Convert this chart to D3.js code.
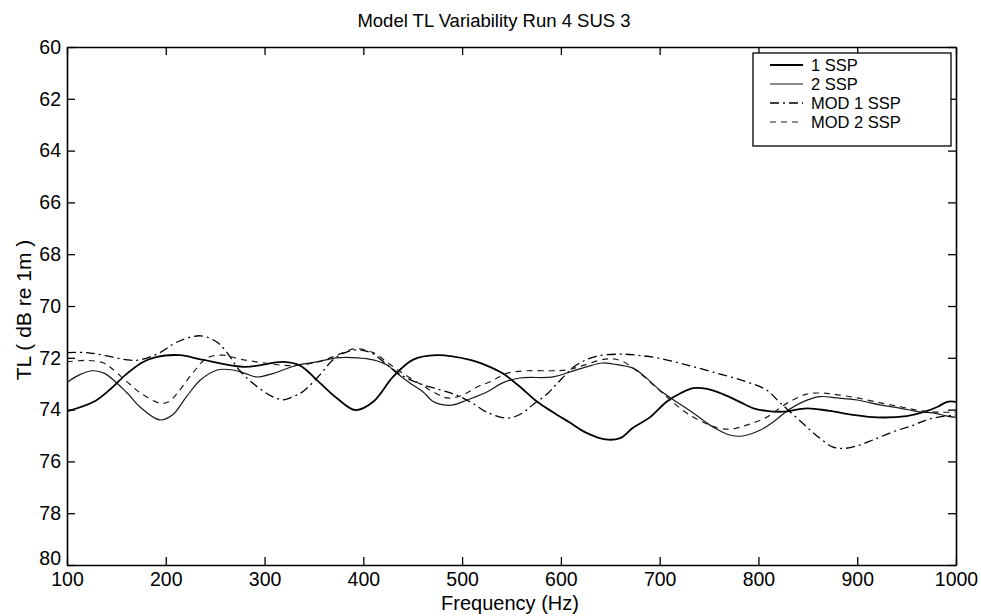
<!DOCTYPE html>
<html>
<head>
<meta charset="utf-8">
<script src="https://cdn.jsdelivr.net/npm/d3@7"></script>
<style>
  html, body { margin: 0; padding: 0; background: #fff; }
  svg { display: block; font-family: "Liberation Sans", Arial, Helvetica, sans-serif; }
</style>
</head>
<body>
<svg id="chart" width="981" height="616"></svg>
<script>
// ---- data ----
const titleText = "Model TL Variability Run 4 SUS 3";
const xLabel = "Frequency (Hz)";
const yLabel = "TL ( dB re 1m )";
const xTicks = [100, 200, 300, 400, 500, 600, 700, 800, 900, 1000];
const yTicks = [60, 62, 64, 66, 68, 70, 72, 74, 76, 78, 80];
const seriesNames = ["1 SSP", "2 SSP", "MOD 1 SSP", "MOD 2 SSP"];

// [frequency Hz, TL dB]
const ssp1 = [[100,74.07],[127,73.7],[143,73.24],[161,72.6],[177,72.16],[191,71.96],[214,71.9],[238,72.08],[280,72.35],[319,72.16],[336,72.3],[353,72.86],[373,73.55],[392,74.02],[410,73.7],[430,72.74],[450,72.08],[474,71.9],[508,72.08],[525,72.3],[541,72.6],[558,73.1],[576,73.7],[592,74.1],[609,74.5],[626,74.9],[645,75.15],[660,75.1],[673,74.7],[690,74.3],[707,73.7],[721,73.37],[734,73.17],[748,73.2],[764,73.4],[781,73.7],[795,73.95],[808,74.05],[825,74.08],[849,73.95],[872,74.05],[896,74.2],[920,74.3],[950,74.25],[967,74.1],[981,73.9],[991,73.7],[1000,73.7]];
const ssp2 = [[100,72.95],[113,72.65],[126,72.5],[138,72.6],[161,73.36],[174,73.9],[194,74.4],[207,74.2],[221,73.5],[235,72.86],[252,72.47],[268,72.47],[280,72.6],[292,72.74],[309,72.6],[333,72.28],[353,72.16],[373,72.0],[394,72.0],[410,72.08],[424,72.28],[434,72.6],[447,72.97],[460,73.3],[471,73.7],[481,73.82],[491,73.82],[505,73.63],[525,73.32],[541,72.97],[558,72.78],[592,72.74],[609,72.55],[626,72.35],[642,72.2],[653,72.24],[673,72.4],[683,72.66],[700,73.24],[717,73.7],[734,74.13],[754,74.67],[771,74.98],[784,75.02],[802,74.79],[815,74.48],[829,74.05],[845,73.7],[862,73.5],[880,73.55],[900,73.63],[923,73.82],[943,73.94],[963,74.09],[977,74.13],[991,74.25],[1000,74.3]];
const mod1 = [[100,71.8],[120,71.8],[137,71.9],[161,72.08],[174,72.08],[194,71.8],[211,71.4],[235,71.15],[252,71.4],[262,71.8],[275,72.5],[292,73.1],[308,73.5],[319,73.62],[329,73.5],[339,73.3],[356,72.66],[370,72.05],[385,71.75],[398,71.7],[410,71.85],[425,72.3],[440,72.7],[457,73.0],[478,73.24],[495,73.45],[511,73.76],[525,74.1],[545,74.33],[558,74.2],[572,73.8],[586,73.4],[596,73.0],[615,72.3],[635,71.95],[660,71.86],[677,71.9],[697,72.0],[724,72.24],[754,72.55],[788,72.93],[808,73.24],[821,73.7],[844,74.5],[862,75.1],[875,75.44],[886,75.5],[900,75.4],[916,75.17],[936,74.86],[957,74.6],[974,74.35],[1000,74.2]];
const mod2 = [[100,72.16],[120,72.1],[137,72.2],[145,72.4],[160,72.9],[174,73.35],[194,73.75],[203,73.7],[212,73.35],[227,72.6],[242,72.0],[258,71.9],[275,72.05],[300,72.2],[325,72.3],[350,72.2],[370,71.95],[392,71.65],[410,71.8],[425,72.2],[440,72.6],[455,72.95],[470,73.3],[485,73.55],[500,73.45],[515,73.13],[530,72.9],[545,72.6],[565,72.5],[590,72.5],[606,72.47],[622,72.3],[645,72.05],[660,72.1],[680,72.6],[698,73.2],[710,73.6],[730,74.2],[758,74.7],[773,74.75],[788,74.6],[808,74.3],[829,73.75],[849,73.4],[862,73.36],[875,73.4],[900,73.55],[925,73.75],[945,73.9],[965,74.05],[985,74.1],[1000,74.1]];

// ---- layout ----
const svg = d3.select("#chart");
const L = 67, R = 956, T = 47, B = 565;
const x = d3.scaleLinear().domain([100, 1000]).range([L, R]);
const y = d3.scaleLinear().domain([60, 80]).range([T, B]);
const tickFont = 19.5;
const labelFont = 20;

// title
svg.append("text").attr("x", 494).attr("y", 27)
  .attr("text-anchor", "middle").attr("font-size", 18.5).text(titleText);

// clip
svg.append("clipPath").attr("id", "clip").append("rect")
  .attr("x", L).attr("y", T).attr("width", R - L).attr("height", B - T);

// axes
const tickLen = 8;
const gB = svg.append("g").attr("transform", `translate(0,${B})`)
  .call(d3.axisBottom(x).tickValues(xTicks).tickFormat(d3.format("d"))
    .tickSizeInner(-tickLen).tickSizeOuter(0).tickPadding(7));
const gT = svg.append("g").attr("transform", `translate(0,${T})`)
  .call(d3.axisTop(x).tickValues(xTicks).tickFormat("")
    .tickSizeInner(-tickLen).tickSizeOuter(0));
const gL = svg.append("g").attr("transform", `translate(${L},0)`)
  .call(d3.axisLeft(y).tickValues(yTicks).tickFormat(d3.format("d"))
    .tickSizeInner(-tickLen).tickSizeOuter(0).tickPadding(6));
const gR = svg.append("g").attr("transform", `translate(${R},0)`)
  .call(d3.axisRight(y).tickValues(yTicks).tickFormat("")
    .tickSizeInner(-tickLen).tickSizeOuter(0));
[gB, gT, gL, gR].forEach(g => {
  g.selectAll(".domain").attr("stroke", "#000").attr("stroke-width", 1.6);
  g.selectAll(".tick line").attr("stroke", "#000").attr("stroke-width", 1.3);
  g.selectAll("text").attr("font-size", tickFont).attr("fill", "#000")
    .attr("font-family", "Liberation Sans, Arial, sans-serif");
});
// the lowest y label sits slightly raised in the reference (clears the "100")
gL.selectAll(".tick").filter(d => d === 80).select("text").attr("dy", "-0.05em");

// axis labels
svg.append("text").attr("x", 510).attr("y", 610)
  .attr("text-anchor", "middle").attr("font-size", labelFont).text(xLabel);
svg.append("text").attr("transform", `translate(31,310) rotate(-90)`)
  .attr("text-anchor", "middle").attr("font-size", 21).text(yLabel);

// lines
const line = d3.line().x(d => x(d[0])).y(d => y(d[1])).curve(d3.curveCatmullRom.alpha(0.5));
const styles = [
  { data: ssp1, w: 1.8, dash: null, color: "#000" },
  { data: ssp2, w: 1.2, dash: null, color: "#1a1a1a" },
  { data: mod1, w: 1.3, dash: "9,4,2,4", color: "#000" },
  { data: mod2, w: 1.2, dash: "6,5", color: "#1a1a1a" }
];
const gLines = svg.append("g").attr("clip-path", "url(#clip)");
styles.forEach(s => {
  gLines.append("path").datum(s.data).attr("d", line)
    .attr("fill", "none").attr("stroke", s.color).attr("stroke-width", s.w)
    .attr("stroke-dasharray", s.dash);
});

// legend
const lg = svg.append("g");
lg.append("rect").attr("x", 753).attr("y", 53).attr("width", 198).attr("height", 93)
  .attr("fill", "#fff").attr("stroke", "#000").attr("stroke-width", 1.3);
const rowY = [65, 84, 103, 122];
seriesNames.forEach((name, i) => {
  const s = styles[i];
  lg.append("line").attr("x1", 770).attr("x2", 803).attr("y1", rowY[i]).attr("y2", rowY[i])
    .attr("stroke", s.color).attr("stroke-width", s.w).attr("stroke-dasharray", s.dash);
  lg.append("text").attr("x", 811).attr("y", rowY[i] + 6).attr("font-size", 16.5).text(name);
});
</script>
</body>
</html>
